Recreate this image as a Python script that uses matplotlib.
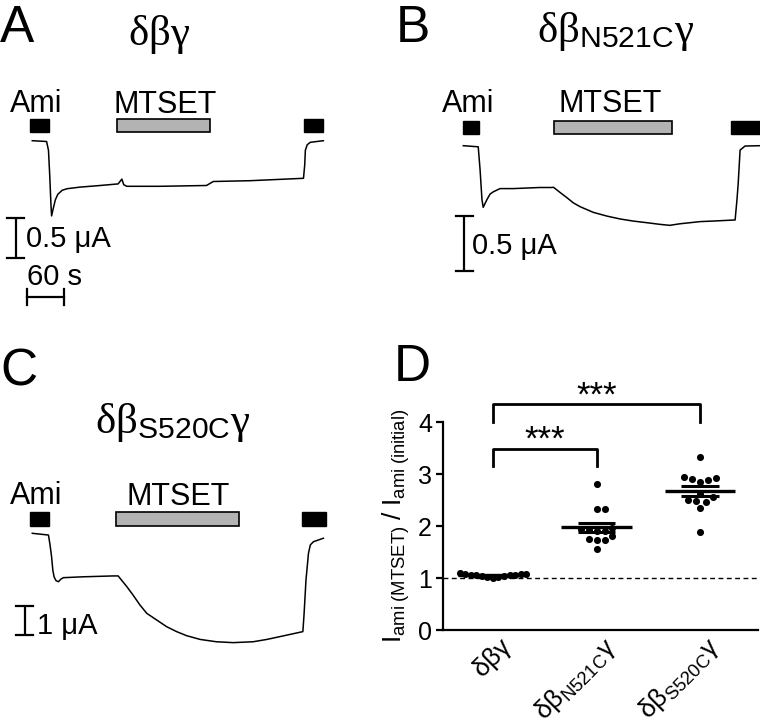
import numpy as np
import matplotlib
matplotlib.use("Agg")
import matplotlib.pyplot as plt
from matplotlib.patches import Rectangle
from matplotlib.transforms import ScaledTranslation

plt.rcParams['font.family'] = ['Liberation Sans', 'DejaVu Sans']
plt.rcParams['mathtext.fontset'] = 'custom'
plt.rcParams['mathtext.rm'] = 'Liberation Serif'
plt.rcParams['mathtext.sf'] = 'Liberation Sans'
plt.rcParams['mathtext.it'] = 'Liberation Serif:italic'

# ---------------- data ----------------
# Panel A trace (time s, current uA)
tA = [0, 23, 26, 28, 30, 31, 33, 37, 41, 48, 56, 77, 109, 138, 144, 147, 152, 205, 280, 291,
      350, 436, 438, 439, 442, 447, 468]
iA = [0, -0.01, -0.12, -0.43, -0.80, -0.94, -0.87, -0.74, -0.67, -0.62, -0.60, -0.58, -0.56,
      -0.54, -0.48, -0.55, -0.57, -0.57, -0.56, -0.51, -0.50, -0.47, -0.30, -0.12, -0.05, -0.02, 0.0]
# Panel B trace
tB = [0, 24, 27, 30, 32, 38, 43, 48, 59, 80, 123, 142, 145, 156, 166, 177, 188, 209, 231, 252,
      273, 295, 316, 332, 348, 381, 402, 437, 440, 442, 445, 453, 477]
iB = [0, -0.01, -0.22, -0.49, -0.56, -0.49, -0.44, -0.42, -0.39, -0.39, -0.38, -0.38, -0.378,
      -0.427, -0.47, -0.52, -0.555, -0.606, -0.64, -0.666, -0.685, -0.70, -0.715, -0.724, -0.71,
      -0.69, -0.685, -0.675, -0.49, -0.34, -0.04, -0.003, 0.0]
# Panel C trace
tC = [0, 26, 28.5, 31, 33, 35, 38, 42, 46, 50, 82, 130, 138, 152, 162, 173, 184, 200, 216, 232,
      248, 270, 296, 323, 355, 377, 403, 435, 437, 440, 444, 447, 452, 468]
iC = [0, -0.06, -0.40, -0.81, -1.27, -1.50, -1.63, -1.67, -1.58, -1.53, -1.50, -1.47, -1.47,
      -1.84, -2.13, -2.47, -2.76, -2.99, -3.22, -3.39, -3.53, -3.66, -3.74, -3.77, -3.74, -3.66,
      -3.54, -3.39, -2.76, -1.61, -0.69, -0.40, -0.29, -0.17]

# Application periods (s)
amiA = [(-4, 27), (437, 468)]
mtsA = (136, 285)
amiB = [(-1, 26), (430, 500)]
mtsB = (146, 335)
amiC = [(-3, 27), (434, 472)]
mtsC = (135, 333)

# Panel D
groups = ["$\\mathsf{\\delta\\beta\\gamma}$",
          "$\\mathsf{\\delta\\beta_{N521C}\\gamma}$",
          "$\\mathsf{\\delta\\beta_{S520C}\\gamma}$"]
vals_wt = [1.09, 1.08, 1.08, 1.07, 1.06, 1.06, 1.05, 1.05, 1.04, 1.03, 1.02, 1.01, 1.00]
vals_n521c = [2.80, 2.33, 2.33, 1.97, 1.95, 1.92, 1.90, 1.90, 1.80, 1.75, 1.73, 1.73, 1.56]
vals_s520c = [3.33, 2.95, 2.93, 2.90, 2.88, 2.85, 2.62, 2.55, 2.50, 2.48, 2.47, 2.35, 1.88]
yticks = [0, 1, 2, 3, 4]

# ---------------- figure ----------------
W, H = 760, 727
fig = plt.figure(figsize=(W / 100, H / 100), dpi=100)


def fx(x):
    return x / W


def fy(y):
    return 1 - y / H


def trace_axes(x0, y0, sx, sy):
    ax = fig.add_axes([0, 0, 1, 1])
    ax.set_xlim((0 - x0) / sx, (W - x0) / sx)
    ax.set_ylim(-(H - y0) / sy, y0 / sy)
    ax.axis('off')
    ax.patch.set_alpha(0)
    return ax


def bars(ax, x0, y0, sx, sy, ami, mts, ytop, ybot):
    lo = -(ybot - y0) / sy
    hgt = (ybot - ytop) / sy
    for a, b in ami:
        ax.add_patch(Rectangle((a, lo), b - a, hgt, fc='black', ec='black', lw=1))
    ax.add_patch(Rectangle((mts[0], lo), mts[1] - mts[0], hgt, fc='#b3b3b3', ec='black', lw=1.2))


def vbar(ax, x0, y0, sx, sy, xpx, ybot_px, length, cap_px):
    t = (xpx - x0) / sx
    b = -(ybot_px - y0) / sy
    c = cap_px / sx
    ax.plot([t, t], [b, b + length], color='black', lw=1.6, solid_capstyle='butt')
    ax.plot([t - c, t + c], [b, b], color='black', lw=1.6)
    ax.plot([t - c, t + c], [b + length, b + length], color='black', lw=1.6)


# Panel A
pA = (32.3, 140.7, 0.622, 80.0)
axA = trace_axes(*pA)
axA.plot(tA, iA, color='black', lw=1.1)
bars(axA, *pA, amiA, mtsA, 119.3, 132.3)
vbar(axA, *pA, 16, 258, 0.5, 8.5)
# 60 s time bar
tb0 = (26.7 - pA[0]) / pA[2]
yb = -(296.7 - pA[1]) / pA[3]
cap = 8 / pA[3]
axA.plot([tb0, tb0 + 60], [yb, yb], color='black', lw=1.6)
axA.plot([tb0, tb0], [yb - cap, yb + cap], color='black', lw=1.6)
axA.plot([tb0 + 60, tb0 + 60], [yb - cap, yb + cap], color='black', lw=1.6)

# Panel B
pB = (463.3, 145.7, 0.622, 110.0)
axB = trace_axes(*pB)
axB.plot(tB, iB, color='black', lw=1.1)
bars(axB, *pB, amiB, mtsB, 120.7, 133.7)
vbar(axB, *pB, 464.3, 271, 0.5, 8.5)

# Panel C
pC = (32.3, 533.3, 0.622, 29.0)
axC = trace_axes(*pC)
axC.plot(tC, iC, color='black', lw=1.1)
bars(axC, *pC, amiC, mtsC, 512.3, 525.7)
vbar(axC, *pC, 25, 635, 1.0, 8.5)

# Texts for trace panels
let_fs = 37
fig.text(fx(0), fy(42), 'A', fontsize=let_fs, ha='left', va='baseline')
fig.text(fx(396), fy(42), 'B', fontsize=let_fs, ha='left', va='baseline')
fig.text(fx(0), fy(385), 'C', fontsize=let_fs, ha='left', va='baseline')
fig.text(fx(394), fy(381), 'D', fontsize=let_fs, ha='left', va='baseline')

tfs = 31
fig.text(fx(128), fy(45), r'$\mathrm{\delta\beta\gamma}$', fontsize=tfs,
         ha='left', va='baseline')
fig.text(fx(537), fy(42), r'$\mathrm{\delta\beta}_{\mathsf{N521C}}\mathrm{\gamma}$', fontsize=tfs,
         ha='left', va='baseline')
fig.text(fx(95), fy(433), r'$\mathrm{\delta\beta}_{\mathsf{S520C}}\mathrm{\gamma}$', fontsize=tfs,
         ha='left', va='baseline')

lfs = 22
for (ax_x, ax_y, m_x, m_y) in [(10, 112, 165, 113), (442, 112, 610.5, 112), (10, 504, 178.5, 505)]:
    fig.text(fx(ax_x), fy(ax_y), 'Ami', fontsize=lfs, ha='left', va='baseline')
    fig.text(fx(m_x), fy(m_y), 'MTSET', fontsize=lfs, ha='center', va='baseline')

sfs = 21
fig.text(fx(26), fy(247), '0.5 μA', fontsize=sfs, ha='left', va='baseline')
fig.text(fx(27), fy(285), '60 s', fontsize=sfs, ha='left', va='baseline')
fig.text(fx(471.7), fy(254), '0.5 μA', fontsize=sfs, ha='left', va='baseline')
fig.text(fx(37.3), fy(634), '1 μA', fontsize=sfs, ha='left', va='baseline')

# ---------------- Panel D ----------------
axD = fig.add_axes([443 / W, 1 - 630 / H, (758 - 443) / W, (630 - 422) / H])
axD.set_ylim(0, 4)
axD.set_xlim(-0.483, 2.56)
for s in ['top', 'right']:
    axD.spines[s].set_visible(False)
for s in ['left', 'bottom']:
    axD.spines[s].set_linewidth(1.6)
axD.set_yticks(yticks)
axD.tick_params(axis='y', labelsize=18, length=5, width=1.6, direction='out', pad=3)
axD.tick_params(axis='x', length=0, labelsize=19, pad=2)
axD.set_xticks([0, 1, 2])
axD.set_xticklabels(groups, rotation=45, ha='right', rotation_mode='anchor', va='top')
off = ScaledTranslation(6 / 100, 0, fig.dpi_scale_trans)
for lab in axD.get_xticklabels():
    lab.set_transform(lab.get_transform() + off)

axD.axhline(1, color='black', lw=1.0, ls=(0, (3.5, 2.5)), zorder=1)

xs_px = 103.5  # px per category unit
ys_px = 52.0   # px per y unit


def swarm(vals, d=6.5):
    v = np.asarray(vals, float)
    order = np.argsort(v)
    placed = []
    offs = np.zeros(len(v))
    cands = [0.0]
    for k in np.arange(0.5, 80, 0.5):
        cands += [k, -k]
    for i in order:
        y = v[i] * ys_px
        for c in cands:
            if all((c - ox) ** 2 + (y - oy) ** 2 >= d * d for ox, oy in placed):
                offs[i] = c
                placed.append((c, y))
                break
    return offs / xs_px


for gi, vals in enumerate([vals_wt, vals_n521c, vals_s520c]):
    v = np.asarray(vals)
    xo = swarm(v, d=5.5 if gi == 0 else 8.0)
    axD.scatter(gi + xo, v, s=26, color='black', zorder=3, linewidths=0)
    m = v.mean()
    sem = v.std(ddof=1) / np.sqrt(len(v))
    axD.plot([gi - 0.34, gi + 0.34], [m, m], color='black', lw=2.4, zorder=4, solid_capstyle='butt')
    axD.plot([gi - 0.18, gi + 0.18], [m + sem, m + sem], color='black', lw=2.2, zorder=4,
             solid_capstyle='butt')
    axD.plot([gi - 0.18, gi + 0.18], [m - sem, m - sem], color='black', lw=2.2, zorder=4,
             solid_capstyle='butt')

# significance brackets
axD.plot([0, 0, 2, 2], [4.0, 4.35, 4.35, 4.0], color='black', lw=2.0, clip_on=False)
axD.text(1.0, 4.5, '***', fontsize=25, ha='center', va='center', clip_on=False)
axD.plot([0, 0, 1, 1], [3.15, 3.48, 3.48, 3.15], color='black', lw=2.0, clip_on=False)
axD.text(0.5, 3.66, '***', fontsize=25, ha='center', va='center', clip_on=False)

axD.set_ylabel(r'$\mathsf{I_{ami\ (MTSET)}\ /\ I_{ami\ (initial)}}$', fontsize=19, labelpad=4)

fig.savefig('out.png', dpi=100)
